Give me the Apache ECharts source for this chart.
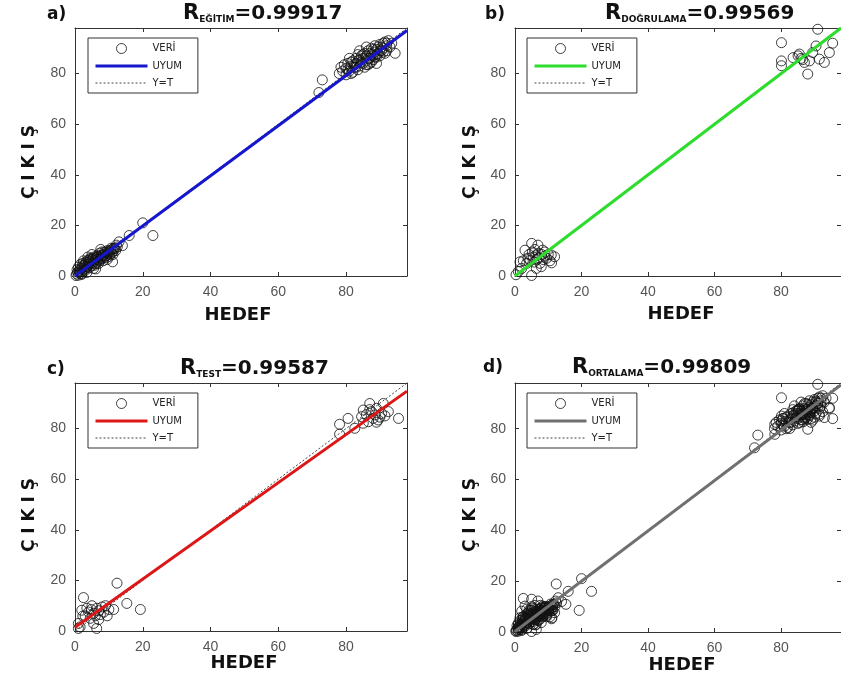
<!DOCTYPE html>
<html>
<head>
<meta charset="utf-8">
<script src="https://cdn.jsdelivr.net/npm/echarts@6/dist/echarts.min.js"></script>
<style>
html,body{margin:0;padding:0;background:#fff}
#main{width:841px;height:677px}
</style>
</head>
<body>
<div id="main"></div>
<script>
// veriler (hedef, cikis)
var egitimData = [
  [0.3,0.2],[0.5,0.8],[0.8,1.5],[1.0,0.3],[1.2,2.2],[1.5,1.0],[1.5,4.5],[1.8,3.0],[2.0,1.8],[2.0,0.6],
  [2.2,4.0],[2.5,2.6],[2.5,6.0],[2.7,3.5],[3.0,4.8],[3.0,2.2],[3.3,5.5],[3.5,3.8],[3.5,1.4],[3.7,3.7],
  [3.8,6.2],[3.8,7.5],[4.0,4.5],[4.2,3.2],[4.5,5.8],[4.6,7.0],[4.8,4.0],[5.0,6.4],[5.0,8.5],[5.2,5.0],
  [5.5,7.5],[5.5,3.0],[5.8,6.0],[6.0,4.8],[6.1,2.8],[6.2,7.2],[6.5,5.5],[6.5,8.0],[6.8,6.5],[7.0,7.8],
  [7.0,5.0],[7.3,9.0],[7.5,6.8],[7.6,10.5],[7.8,8.2],[8.0,7.0],[8.0,9.5],[8.3,6.0],[8.5,8.5],[8.8,7.5],
  [9.0,9.2],[9.2,8.0],[9.5,10.0],[9.5,6.5],[9.8,8.8],[10.0,9.5],[10.2,7.8],[10.5,10.2],[10.8,9.0],[11.0,10.5],
  [11.1,5.6],[11.2,8.5],[11.5,11.0],[12.0,10.0],[12.5,11.5],[13.0,13.5],[14.0,12.0],[16.0,16.0],[20.0,21.0],[23.0,16.0],
  [0.6,2.5],[1.0,3.5],[1.3,1.6],[2.3,5.0],[2.8,4.2],[3.2,3.0],[4.0,5.5],[4.3,6.5],[4.7,5.2],[5.3,6.8],
  [5.7,4.2],[6.0,6.8],[6.3,5.0],[6.7,7.5],[7.2,6.0],[7.7,7.5],[8.2,8.0],[8.7,9.5],[9.3,7.2],[9.7,9.5],
  [10.3,8.6],[10.7,11.0],[11.3,9.8],[11.8,10.8],[12.2,12.2],[2.0,1.0],
  [72,72.5],[73,77.5],[78,80],[78.5,82.5],[79,81],[79.5,83.5],[80,79.5],[80,82],[80.5,84],[81,81],
  [81,86],[81.5,83],[82,85],[82,80.5],[82.5,82.5],[83,84],[83,86],[83.5,81.5],[84,83],[84,85.5],
  [84,89],[84.5,87],[85,84],[85,86],[85.5,82.5],[85.5,88],[86,85],[86,87],[86,90.5],[86.5,83.5],
  [86.5,89],[87,86],[87,88],[87.5,84.5],[87.5,90],[88,87],[88,85.5],[88.5,88.5],[88.5,91],[89,86.5],
  [89,89.5],[89,84],[89.5,88],[89.5,90.5],[90,87],[90,91.5],[90.5,89],[91,90],[91,92],[91.5,88],
  [91.5,92.5],[92,91],[92,89],[92.5,93],[93,90.5],[93.5,92],[94.5,88],
  [80.5,81.5],[81.5,84.5],[82.5,83.5],[83,82.5],[83.5,85],[84.5,84.5],[85,87.5],[86,83.5],[86.5,86],[87,84],
  [87.5,87.5],[88,89.5],[88.5,86.5],[89,87.5],[90,89],[90.5,90.5],[91,88.5],[92,92],[83.5,87.5],[81.5,80]
];
var dogrulamaData = [
  [0.3,0.5],[1.0,1.8],[1.5,5.6],[2.0,3.0],[2.5,6.0],[3.0,10.2],[3.5,5.0],[3.9,7.0],[4.2,8.5],[4.5,6.2],
  [5.0,12.9],[5.0,0.2],[5.2,9.5],[5.5,7.5],[5.8,5.5],[6.0,10.5],[6.2,8.0],[6.4,3.0],[6.5,6.5],[6.9,12.2],
  [7.0,9.0],[7.2,7.2],[7.5,5.0],[7.9,3.7],[8.0,8.5],[8.3,10.2],[8.5,6.5],[8.8,7.8],[9.0,9.5],[9.5,7.0],
  [10.0,8.5],[10.5,6.0],[10.9,8.3],[11.9,7.6],[11.0,5.2],
  [91.0,97.5],[80.1,92.2],[90.5,90.9],[85.5,87.7],[89.5,88.3],[94.5,88.3],[80.1,85.0],[83.6,86.3],[85.1,87.0],[91.5,85.7],
  [93.0,84.4],[88.5,85.0],[88.0,79.8],[80.1,83.1],[87.0,84.4],[95.5,92.0],[86.0,86.0],[86.5,85.5]
];
var testData = [
  [1.0,1.0],[1.0,3.0],[2.0,8.2],[2.5,13.2],[2.3,5.9],[1.5,1.6],[3.0,6.0],[3.5,9.0],[4.0,7.5],[4.5,5.0],
  [4.8,8.5],[5.0,10.0],[5.5,7.0],[6.0,6.0],[6.4,1.0],[6.5,9.0],[7.0,8.0],[7.0,4.5],[7.5,6.5],[8.0,9.5],
  [8.5,7.5],[9.0,10.0],[9.5,6.0],[10.0,8.5],[11.4,8.5],[12.4,18.9],[15.3,10.9],[19.3,8.5],[5.5,3.0],
  [78.1,81.7],[80.6,84.0],[78.1,77.8],[82.6,80.1],[85.1,87.3],[87.0,89.9],[91.0,89.9],[95.5,84.0],[92.5,86.7],[86.6,82.7],
  [89.5,83.4],[85.1,82.1],[88.5,85.4],[90.5,86.0],[84.6,84.7],[87.5,86.7],[89.0,88.0],[88.0,84.0],[90.0,84.5],[86.0,85.5],
  [91.5,85.0],[89.0,82.5],[87.0,87.5]
];
var ortalamaData = egitimData.concat(dogrulamaData, testData);

var panelData = [egitimData, dogrulamaData, testData, ortalamaData];
var panelLetters = ['a)', 'b)', 'c)', 'd)'];
var rSubs = ['EĞİTİM', 'DOĞRULAMA', 'TEST', 'ORTALAMA'];
var rValues = ['0.99917', '0.99569', '0.99587', '0.99809'];
var fitSlopes = [0.99, 1.0, 0.952, 0.99];
var fitIntercepts = [0, 0, 1.5, 0.2];
var fitColors = ['#1616cc', '#2ddc2d', '#dd1717', '#707070'];
var axisTicks = [0, 20, 40, 60, 80];
var AXIS_MAX = 98;

var grids = [
  {left: 75, top: 28, width: 332, height: 248},
  {left: 515, top: 28, width: 333, height: 248},
  {left: 75, top: 383, width: 332, height: 248},
  {left: 515, top: 383, width: 333, height: 249}
];
var legendPos = [[88, 38], [527, 38], [88, 393], [527, 393]];
var titlePos = [[183, 3], [605, 3], [180, 358], [572, 357]];
var letterPos = [[47, 15], [485, 15], [47, 370], [483, 368]];
var ylabPos = [[30, 162], [471, 162], [30, 515], [471, 515]];
var xlabPos = [[238, 315], [681, 314], [244, 663], [682, 665]];

var myChart = echarts.init(document.getElementById('main'));
var xAxes = [], yAxes = [], series = [], legends = [], titles = [], graphics = [];

function axisBase(i, pos, showLabel) {
  return {
    gridIndex: i, type: 'value', position: pos,
    min: 0, max: AXIS_MAX, interval: 20,
    axisLine: {show: true, onZero: false, lineStyle: {color: '#333', width: 1}},
    axisTick: {show: true, inside: true, length: 4, lineStyle: {color: '#333'}},
    axisLabel: {
      show: showLabel, fontSize: 14, color: '#555', fontFamily: 'Liberation Sans',
      margin: 9, showMaxLabel: false,
      formatter: function (v) { return axisTicks.indexOf(v) >= 0 ? String(v) : ''; }
    },
    splitLine: {show: false}
  };
}

for (var i = 0; i < 4; i++) {
  var key = 'abcd'[i];
  xAxes.push(axisBase(i, 'bottom', true));
  xAxes.push(axisBase(i, 'top', false));
  yAxes.push(axisBase(i, 'left', true));
  yAxes.push(axisBase(i, 'right', false));

  series.push({
    name: key + '|VERİ', type: 'scatter', xAxisIndex: 2 * i, yAxisIndex: 2 * i,
    symbol: 'circle', symbolSize: 10, silent: true,
    itemStyle: {color: 'rgba(0,0,0,0)', borderColor: '#111', borderWidth: 1},
    data: panelData[i]
  });
  // Y=T cizgisi uyum cizgisinin altinda kalsin
  series.push({
    name: key + '|Y=T', type: 'line', xAxisIndex: 2 * i, yAxisIndex: 2 * i,
    symbol: 'none', silent: true,
    lineStyle: {color: '#444', width: 1, type: [2, 2]},
    itemStyle: {color: '#444'},
    data: [[0, 0], [AXIS_MAX, AXIS_MAX]]
  });
  series.push({
    name: key + '|UYUM', type: 'line', xAxisIndex: 2 * i, yAxisIndex: 2 * i,
    symbol: 'none', silent: true,
    lineStyle: {color: fitColors[i], width: 3},
    itemStyle: {color: fitColors[i]},
    data: [[0, fitIntercepts[i]], [AXIS_MAX, fitSlopes[i] * AXIS_MAX + fitIntercepts[i]]]
  });

  legends.push({
    orient: 'vertical', left: legendPos[i][0], top: legendPos[i][1],
    itemWidth: 52, itemHeight: 10, itemGap: 7,
    padding: [5, 16, 5, 6], borderColor: '#333', borderWidth: 1,
    backgroundColor: '#fff', selectedMode: false,
    textStyle: {fontSize: 10, color: '#222', fontFamily: 'DejaVu Sans'},
    formatter: function (n) { return n.split('|')[1]; },
    data: [
      {name: key + '|VERİ', icon: 'circle', itemStyle: {color: 'rgba(0,0,0,0)', borderColor: '#111', borderWidth: 1}},
      {name: key + '|UYUM', lineStyle: {width: 3, color: fitColors[i]}, itemStyle: {opacity: 0}},
      {name: key + '|Y=T', lineStyle: {width: 1, type: [2, 2], color: '#444'}, itemStyle: {opacity: 0}}
    ]
  });

  titles.push({
    left: titlePos[i][0], top: titlePos[i][1], padding: 0,
    text: '{r|R}{s|' + rSubs[i] + '}{v|=' + rValues[i] + '}',
    textStyle: {
      rich: {
        r: {fontSize: 21, fontWeight: 'bold', fontFamily: 'DejaVu Sans', color: '#111'},
        s: {fontSize: 9, fontWeight: 'bold', fontFamily: 'DejaVu Sans', color: '#111', verticalAlign: 'bottom'},
        v: {fontSize: 20, fontWeight: 'bold', fontFamily: 'DejaVu Sans', color: '#111'}
      }
    }
  });

  graphics.push({
    type: 'text', x: letterPos[i][0], y: letterPos[i][1],
    style: {text: panelLetters[i], font: 'bold 17px "DejaVu Sans"', fill: '#111', textVerticalAlign: 'middle'}
  });
  graphics.push({
    type: 'text', x: ylabPos[i][0], y: ylabPos[i][1], rotation: Math.PI / 2,
    style: {text: 'Ç I K I Ş', font: 'bold 17px "DejaVu Sans"', fill: '#111', textAlign: 'center', textVerticalAlign: 'middle'}
  });
  graphics.push({
    type: 'text', x: xlabPos[i][0], y: xlabPos[i][1],
    style: {text: 'HEDEF', font: 'bold 18px "DejaVu Sans"', fill: '#111', textAlign: 'center', textVerticalAlign: 'middle'}
  });
}

myChart.setOption({
  backgroundColor: '#fff',
  animation: false,
  title: titles,
  legend: legends,
  grid: grids,
  xAxis: xAxes,
  yAxis: yAxes,
  series: series,
  graphic: graphics
});
</script>
</body>
</html>
